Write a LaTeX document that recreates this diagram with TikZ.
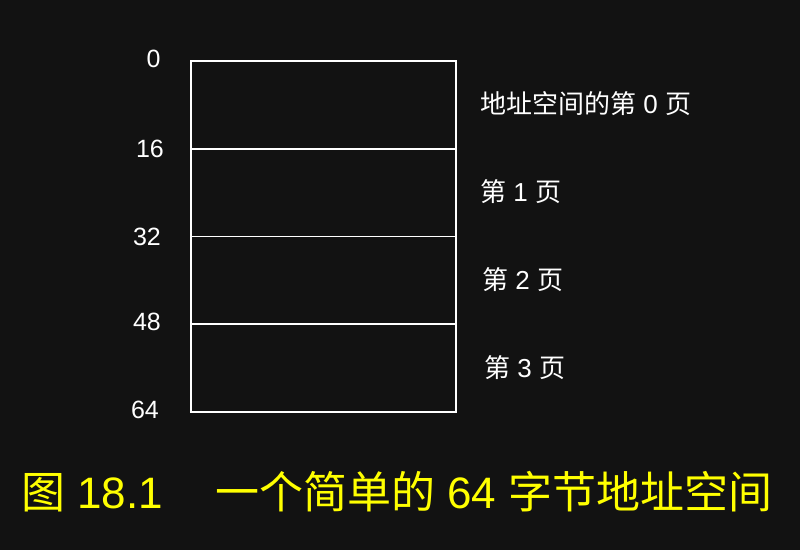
\documentclass[tikz,border=0pt]{standalone}
\usepackage{fontspec}
\setmainfont{Liberation Sans}
\newfontfamily\cjk{Noto Sans CJK SC}
\usetikzlibrary{positioning}
\definecolor{bgdark}{HTML}{121212}
\definecolor{capyellow}{HTML}{FFFF00}

\begin{document}
\begin{tikzpicture}[x=1pt,y=-1pt,
    pagebox/.style={draw=white,line width=1.6pt,minimum width=265pt,minimum height=87.75pt,inner sep=0pt,outer sep=0pt},
    addr/.style={text=white,anchor=base,inner sep=0pt,font=\fontsize{25}{29}\selectfont},
    pagelabel/.style={text=white,anchor=base west,inner sep=0pt,font=\fontsize{26}{30}\selectfont},
    captext/.style={text=capyellow,anchor=base west,inner sep=0pt,font=\fontsize{44}{50}\selectfont}]
  \fill[bgdark] (0,0) rectangle (800,550);
  \useasboundingbox (0,0) rectangle (800,550);
  % the 64-byte space, four pages of 16 bytes
  \node[pagebox] (page0) at (323.5,104.9) {};
  \node[pagebox,below=0pt of page0] (page1) {};
  \node[pagebox,below=0pt of page1] (page2) {};
  \node[pagebox,below=0pt of page2] (page3) {};
  % addresses on the left
  \node[addr] (a0) at (153.5,67.5) {0};
  \node[addr] (a16) at (150,157) {16};
  \node[addr] (a32) at (147,245) {32};
  \node[addr] (a48) at (147,330) {48};
  \node[addr] (a64) at (145,418) {64};
  % page names on the right
  \node[pagelabel] (p0) at (480,113) {{\cjk 地址空间的第} 0 {\cjk 页}};
  \node[pagelabel] (p1) at (480,201) {{\cjk 第} 1 {\cjk 页}};
  \node[pagelabel] (p2) at (482,289) {{\cjk 第} 2 {\cjk 页}};
  \node[pagelabel] (p3) at (484,377) {{\cjk 第} 3 {\cjk 页}};
  % caption
  \node[captext] (fignum) at (21,508) {{\cjk 图} 18.1};
  \node[captext] (figtitle) at (215,508) {{\cjk 一个简单的} 64 {\cjk 字节地址空间}};
\end{tikzpicture}
\end{document}
